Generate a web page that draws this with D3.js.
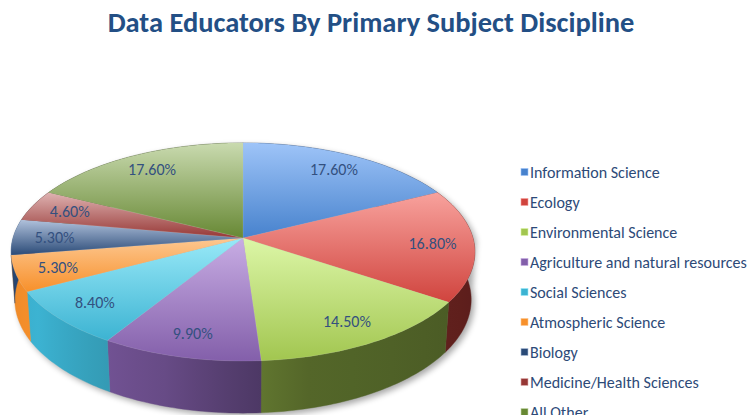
<!DOCTYPE html>
<html>
<head>
<meta charset="utf-8">
<script src="https://cdn.jsdelivr.net/npm/d3@7"></script>
<style>
  body { margin: 0; background: #fff; }
  svg { display: block; }
</style>
</head>
<body>
<svg width="748" height="415"></svg>
<script>
'use strict';
const svg = d3.select('svg');
const font = 'Carlito, Calibri, Lato, sans-serif';

// data
const title_text = 'Data Educators By Primary Subject Discipline';
const categories = ['Information Science', 'Ecology', 'Environmental Science',
  'Agriculture and natural resources', 'Social Sciences', 'Atmospheric Science',
  'Biology', 'Medicine/Health Sciences', 'All Other'];
const shares = [17.6, 16.8, 14.5, 9.9, 8.4, 5.3, 5.3, 4.6, 17.6];

// palette (top face gradient light -> dark)
const top_light = ['#9ec4f8', '#f8a29d', '#dcf6a7', '#c8ade4', '#99e9f8', '#fdc891', '#b1c2dc', '#dfb3b2', '#c9daaf'];
const top_dark = ['#4782cd', '#d0443e', '#a2c650', '#835faa', '#3cb3d2', '#f7902b', '#2a4a77', '#963735', '#678834'];

// perspective set-up for the 3d pie
const cx = 243, cy = 238, focal = 1587, dist = 6.9;
const tilt = 27.8 * Math.PI / 180;
const thick = 0.237;
const label_r = 0.82;

function proj(a, r, h) {
  const u = r * Math.sin(a), v = r * Math.cos(a);
  const Y = v * Math.sin(tilt) + h * Math.cos(tilt);
  const Z = dist + v * Math.cos(tilt) - h * Math.sin(tilt);
  return [cx + focal * u / Z, cy - focal * Y / Z];
}
function arcPts(a0, a1, h) {
  const n = Math.max(2, Math.ceil(Math.abs(a1 - a0) / (Math.PI / 180)));
  return d3.range(n + 1).map(i => proj(a0 + (a1 - a0) * i / n, 1, h));
}
const line = d3.line();

// how much darker the side wall is, by angle (degrees, clockwise from top)
const wall_dark = d3.scaleLinear()
  .domain([90, 166, 198, 235, 270])
  .range([2.4, 1.85, 0.65, 0, 0.2])
  .clamp(true);

const pie = d3.pie().sort(null).value(d => d);
const arcs = pie(shares);

const defs = svg.append('defs');

// shadow
const flt = defs.append('filter').attr('id', 'shadow')
  .attr('x', '-10%').attr('y', '-10%').attr('width', '120%').attr('height', '130%');
flt.append('feGaussianBlur').attr('stdDeviation', 3);

const outline = arcPts(-Math.PI / 2, Math.PI / 2, 0)
  .concat(arcPts(Math.PI / 2, 3 * Math.PI / 2, -thick));
svg.append('path')
  .attr('d', line(outline) + 'Z')
  .attr('transform', 'translate(3,3)')
  .attr('fill', '#000')
  .attr('opacity', 0.35)
  .attr('filter', 'url(#shadow)');

// walls
arcs.forEach((d, i) => {
  const v0 = Math.max(d.startAngle, Math.PI / 2);
  const v1 = Math.min(d.endAngle, 3 * Math.PI / 2);
  let fill = d3.rgb(top_dark[i]).darker(2);
  if (v0 < v1) {
    const xl = proj(v1, 1, 0)[0], xr = proj(v0, 1, 0)[0];
    const g = defs.append('linearGradient').attr('id', 'wall' + i)
      .attr('gradientUnits', 'userSpaceOnUse')
      .attr('x1', xl).attr('x2', xr).attr('y1', 0).attr('y2', 0);
    d3.range(6).forEach(s => {
      const a = v1 + (v0 - v1) * s / 5;
      const x = proj(a, 1, 0)[0];
      g.append('stop')
        .attr('offset', xr === xl ? 0 : (x - xl) / (xr - xl))
        .attr('stop-color', d3.rgb(top_dark[i]).darker(wall_dark(a * 180 / Math.PI)));
    });
    fill = 'url(#wall' + i + ')';
  }
  const pts = arcPts(d.startAngle, d.endAngle, 0)
    .concat(arcPts(d.endAngle, d.startAngle, -thick));
  svg.append('path')
    .attr('d', line(pts) + 'Z')
    .attr('fill', fill)
    .attr('stroke', fill)
    .attr('stroke-width', 0.4);
});

// top faces
arcs.forEach((d, i) => {
  const g = defs.append('linearGradient').attr('id', 'top' + i)
    .attr('x1', 0).attr('y1', 0).attr('x2', 0).attr('y2', 1);
  g.append('stop').attr('offset', 0).attr('stop-color', top_light[i]);
  g.append('stop').attr('offset', 1).attr('stop-color', top_dark[i]);
  const pts = [proj(0, 0, 0)].concat(arcPts(d.startAngle, d.endAngle, 0));
  svg.append('path')
    .attr('d', line(pts) + 'Z')
    .attr('fill', 'url(#top' + i + ')')
    .attr('stroke', top_light[i])
    .attr('stroke-opacity', 0.3)
    .attr('stroke-width', 0.5);
});

// size the text so it matches the reference widths
const probe = svg.append('text').attr('font-family', font).attr('font-size', 20)
  .text('Agriculture and natural resources');
const small_size = 20 * 217 / probe.node().getComputedTextLength();
probe.remove();

// labels
svg.append('g')
  .selectAll('text').data(arcs).enter()
  .append('text')
    .attr('x', d => proj((d.startAngle + d.endAngle) / 2, label_r, 0)[0])
    .attr('y', d => proj((d.startAngle + d.endAngle) / 2, label_r, 0)[1])
    .attr('dy', '0.35em')
    .attr('text-anchor', 'middle')
    .attr('font-family', font)
    .attr('font-size', small_size)
    .attr('fill', '#33507f')
    .text(d => d.data.toFixed(2) + '%');

// title
const title = svg.append('text')
  .attr('x', 371)
  .attr('y', 32)
  .attr('text-anchor', 'middle')
  .attr('font-family', font)
  .attr('font-weight', 'bold')
  .attr('font-size', 24)
  .attr('fill', '#234f85')
  .text(title_text);
title.attr('font-size', 24 * 527 / title.node().getComputedTextLength());

// legend
const legend = svg.append('g')
  .selectAll('g').data(categories).enter()
  .append('g')
  .attr('transform', (d, i) => `translate(521,${172 + i * 30})`);

legend.append('rect')
  .attr('y', -3.5)
  .attr('width', 7)
  .attr('height', 7)
  .attr('fill', (d, i) => top_dark[i])
  .attr('stroke', (d, i) => top_light[i])
  .attr('stroke-width', 0.6);

legend.append('text')
  .attr('x', 9)
  .attr('y', 0)
  .attr('dy', '0.35em')
  .attr('font-family', font)
  .attr('font-size', small_size)
  .attr('fill', '#2d4a78')
  .text(d => d);
</script>
</body>
</html>
